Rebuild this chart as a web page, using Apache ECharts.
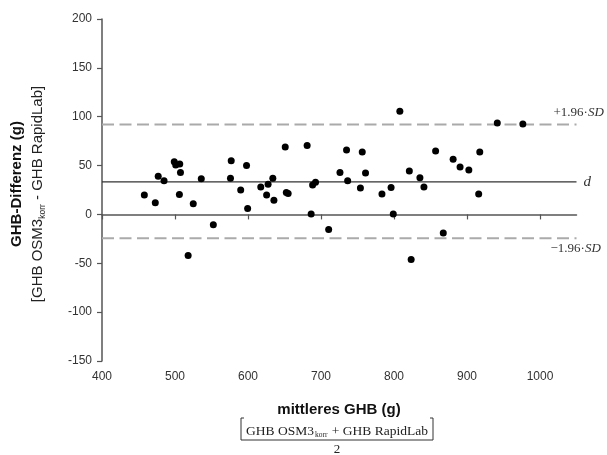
<!DOCTYPE html>
<html>
<head>
<meta charset="utf-8">
<script src="https://cdn.jsdelivr.net/npm/echarts@6/dist/echarts.min.js"></script>
<style>
html,body{margin:0;padding:0;background:#fff;}
#chart{width:607px;height:455px;}
</style>
</head>
<body>
<div id="chart"></div>
<script>
// Mean GHB (x) and difference (y) for each sample
const meanGhb = [458, 473, 477, 485, 499, 501, 506.5, 507.5, 506, 518, 525, 536, 552.5, 576, 577, 590, 598, 599.5, 617.5, 627.5, 625.5, 634, 635.5, 651, 652.5, 655, 681, 686.5, 688.5, 692.5, 710.5, 726, 735, 736.5, 754, 756.5, 761, 783.5, 796, 799, 808, 821, 823.5, 835.5, 841, 857, 867.5, 881, 890.5, 902.5, 917.5, 916, 941.5, 976.5];
const diffGhb = [20, 12, 39, 34.5, 54, 50.5, 51.5, 43, 20.5, -42, 11, 36.5, -10.5, 37, 55, 25, 50, 6, 28, 31, 20, 37, 14.5, 69, 22.5, 21.5, 70.5, 0.5, 30, 33, -15.5, 43, 66, 34.5, 27, 64, 42.5, 21, 27.5, 0.5, 105.5, 44.5, -46, 37.5, 28, 65, -19, 56.5, 48.5, 45.5, 64, 21, 93.5, 92.5];
const meanDiff = 33.4;
const upperLoA = 92.0;
const lowerLoA = -24.3;
const xTicks = [400, 500, 600, 700, 800, 900, 1000];
const xRange = [400, 1050];
const yRange = [-150, 200];
const yStep = 50;

const points = meanGhb.map((x, i) => [x, diffGhb[i]]);
const lineData = v => [[xRange[0], v], [xRange[1], v]];

const chart = echarts.init(document.getElementById('chart'), null, {renderer: 'canvas'});
const sans = '"Liberation Sans", Arial, sans-serif';
const serif = '"Liberation Serif", "Times New Roman", serif';

const option = {
  animation: false,
  backgroundColor: '#fff',
  grid: {left: 102, right: 30.5, top: 19, bottom: 94, containLabel: false},
  xAxis: {
    type: 'value', min: xRange[0], max: xRange[1],
    axisLine: {lineStyle: {color: '#555', width: 1.5}},
    axisTick: {show: true, length: 5, lineStyle: {color: '#555', width: 1.2}, customValues: xTicks},
    axisLabel: {customValues: xTicks, margin: 10, fontFamily: sans, fontSize: 12, color: '#333',
      formatter: v => String(v)},
    splitLine: {show: false}
  },
  yAxis: {
    type: 'value', min: yRange[0], max: yRange[1], interval: yStep,
    axisLine: {show: true, lineStyle: {color: '#555', width: 1.5}},
    axisTick: {show: true, length: 5, lineStyle: {color: '#555', width: 1.2}},
    axisLabel: {margin: 10, fontFamily: sans, fontSize: 12, color: '#333', formatter: v => String(v)},
    splitLine: {show: false}
  },
  series: [
    {type: 'line', data: lineData(upperLoA), symbol: 'none', z: 1, silent: true,
     lineStyle: {color: '#aaa', width: 2, type: [12, 5.5]}},
    {type: 'line', data: lineData(lowerLoA), symbol: 'none', z: 1, silent: true,
     lineStyle: {color: '#aaa', width: 2, type: [12, 5.5]}},
    {type: 'line', data: lineData(meanDiff), symbol: 'none', z: 1, silent: true,
     lineStyle: {color: '#333', width: 1.2}},
    {type: 'scatter', data: points, symbolSize: 7, z: 3,
     itemStyle: {color: '#000', opacity: 1}}
  ]
};
chart.setOption(option);

const pEndUp = chart.convertToPixel({gridIndex: 0}, [xRange[1], upperLoA]);
const pEndLo = chart.convertToPixel({gridIndex: 0}, [xRange[1], lowerLoA]);
const pEndMean = chart.convertToPixel({gridIndex: 0}, [xRange[1], meanDiff]);

chart.setOption({
  graphic: [
    {type: 'text', x: 17, y: 184, rotation: Math.PI / 2,
     style: {text: 'GHB-Differenz (g)', font: 'bold 15px ' + sans, fill: '#111', align: 'center', verticalAlign: 'middle'}},
    {type: 'text', x: 38, y: 194, rotation: Math.PI / 2,
     style: {text: '{m|[GHB OSM3}{s|korr}{m| - GHB RapidLab]}', align: 'center', verticalAlign: 'middle',
       rich: {m: {fontFamily: sans, fontSize: 15, fill: '#222', lineHeight: 18, verticalAlign: 'middle'},
              s: {fontFamily: sans, fontSize: 8.5, fill: '#222', lineHeight: 18, verticalAlign: 'bottom', padding: [9, 0, 0, 0]}}}},
    {type: 'text', x: 339, y: 410,
     style: {text: 'mittleres GHB (g)', font: 'bold 15px ' + sans, fill: '#111', align: 'center', verticalAlign: 'middle'}},
    {type: 'text', x: 337, y: 431,
     style: {text: '{m|GHB OSM3}{s|korr}{m| + GHB RapidLab}', align: 'center', verticalAlign: 'middle',
       rich: {m: {fontFamily: serif, fontSize: 13.5, fill: '#222', lineHeight: 16, verticalAlign: 'middle'},
              s: {fontFamily: serif, fontSize: 7.5, fill: '#222', lineHeight: 16, verticalAlign: 'bottom', padding: [8, 1, 0, 1]}}}},
    {type: 'polyline', shape: {points: [[244, 418], [241, 418], [241, 440], [433, 440], [433, 418], [430, 418]]},
     style: {stroke: '#333', lineWidth: 1, fill: null}},
    {type: 'text', x: 337, y: 450,
     style: {text: '2', font: '13px ' + serif, fill: '#222', align: 'center', verticalAlign: 'middle'}},
    {type: 'text', x: pEndUp[0] - 23, y: pEndUp[1] - 11.5,
     style: {text: '{m|+1.96·}{i|SD}', align: 'left', verticalAlign: 'middle',
       rich: {m: {fontFamily: serif, fontSize: 13, fill: '#333'}, i: {fontFamily: serif, fontStyle: 'italic', fontSize: 13, fill: '#333'}}}},
    {type: 'text', x: pEndLo[0] - 26, y: pEndLo[1] + 10,
     style: {text: '{m|−1.96·}{i|SD}', align: 'left', verticalAlign: 'middle',
       rich: {m: {fontFamily: serif, fontSize: 13, fill: '#333'}, i: {fontFamily: serif, fontStyle: 'italic', fontSize: 13, fill: '#333'}}}},
    {type: 'text', x: pEndMean[0] + 7, y: pEndMean[1],
     style: {text: 'd', font: 'italic 15px ' + serif, fill: '#333', align: 'left', verticalAlign: 'middle'}}
  ]
});
</script>
</body>
</html>
